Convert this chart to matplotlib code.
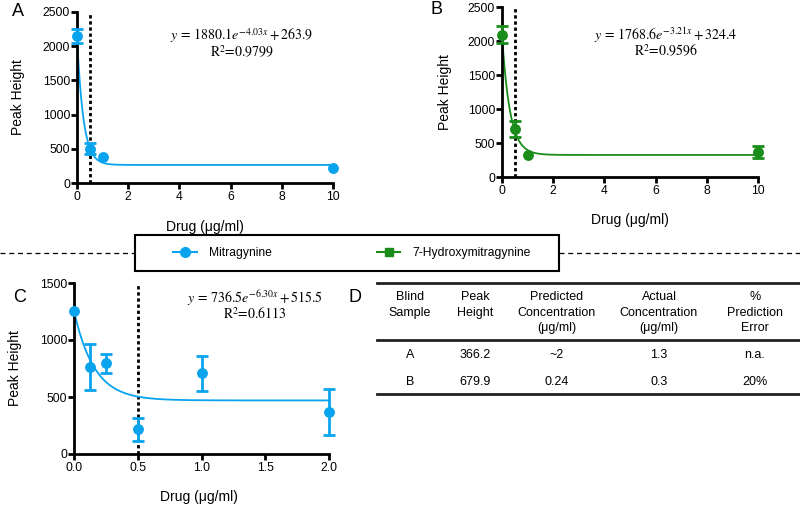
import numpy as np
import matplotlib
matplotlib.use("Agg")
import matplotlib.pyplot as plt
from matplotlib.lines import Line2D
from matplotlib.patches import Rectangle

plt.rcParams['font.family'] = ['Liberation Sans', 'DejaVu Sans']
plt.rcParams['mathtext.fontset'] = 'stix'

BLUE = '#0AA3EE'
GREEN = '#1A8C1A'

# Panel A: Mitragynine
a_x = [0, 0.5, 1, 10]
a_y = [2150, 500, 385, 215]
a_err = [105, 80, 0, 0]
a_fit = (1880.1, 4.03, 263.9)

# Panel B: 7-Hydroxymitragynine
b_x = [0, 0.5, 1, 10]
b_y = [2090, 710, 323, 372]
b_err = [125, 120, 0, 90]
b_fit = (1768.6, 3.21, 324.4)

# Panel C: Mitragynine low range
c_x = [0, 0.125, 0.25, 0.5, 1.0, 2.0]
c_y = [1257, 765, 795, 215, 708, 367]
c_err = [0, 200, 85, 100, 155, 200]
c_fit = (785, 6.30, 470)

# Table D
tbl_header = ["Blind\nSample", "Peak\nHeight", "Predicted\nConcentration\n(\u03bcg/ml)",
              "Actual\nConcentration\n(\u03bcg/ml)", "%\nPrediction\nError"]
tbl_rows = [["A", "366.2", "~2", "1.3", "n.a."],
            ["B", "679.9", "0.24", "0.3", "20%"]]

W, H = 800, 508
fig = plt.figure(figsize=(W / 100, H / 100), dpi=100)


def px_axes(l, r, t, b):
    return fig.add_axes([l / W, (H - b) / H, (r - l) / W, (b - t) / H])


def style(ax, xlim, ylim, xticks, yticks, xtl):
    ax.set_xlim(*xlim)
    ax.set_ylim(*ylim)
    ax.set_xticks(xticks)
    ax.set_xticklabels(xtl)
    ax.set_yticks(yticks)
    for s in ['top', 'right']:
        ax.spines[s].set_visible(False)
    for s in ['left', 'bottom']:
        ax.spines[s].set_linewidth(2)
    ax.tick_params(direction='out', length=4, width=2, labelsize=8.7, pad=2, colors='black')
    ax.tick_params(axis='y', pad=1)
    ax.set_xlabel("Drug (\u03bcg/ml)", fontsize=10)
    ax.set_ylabel("Peak Height", fontsize=10)


def panel(ax, x, y, err, fit, color, xmax, ymax, xticks, yticks, xtl, eq, r2, eqpos):
    xs = np.linspace(0, xmax, 400)
    a, k, c = fit
    ax.plot(xs, a * np.exp(-k * xs) + c, color=color, lw=1.3, clip_on=False, zorder=2)
    ax.plot(x, y, 'o', color=color, ms=6.8, clip_on=False, zorder=4)
    ex = [xi for xi, e in zip(x, err) if e > 0]
    ey = [yi for yi, e in zip(y, err) if e > 0]
    ee = [e for e in err if e > 0]
    ax.errorbar(ex, ey, yerr=ee, fmt='none', ecolor=color, elinewidth=2, capsize=4.5,
                capthick=2, clip_on=False, zorder=3)
    ax.axvline(0.5, color='black', ls=(0, (1.2, 1.0)), lw=2, zorder=1)
    style(ax, (0, xmax), (0, ymax), xticks, yticks, xtl)
    hpx = ax.get_position().height * H
    ax.text(eqpos[0], eqpos[1], eq, transform=ax.transAxes, ha='center', va='center',
            fontsize=10, family='STIXGeneral')
    ax.text(eqpos[0], eqpos[1] - 16.5 / hpx, r2, transform=ax.transAxes, ha='center', va='center',
            fontsize=10, family='STIXGeneral')


axA = px_axes(77, 333, 12, 183)
panel(axA, a_x, a_y, a_err, a_fit, BLUE, 10, 2500, [0, 2, 4, 6, 8, 10], [0, 500, 1000, 1500, 2000, 2500],
      ['0', '2', '4', '6', '8', '10'],
      r"$y\,=\,1880.1e^{-4.03x}+263.9$", r"R$^2$=0.9799", ((242 - 77) / 256, (183 - 36) / 171))
axA.xaxis.set_label_coords(0.5, -0.257)
axA.yaxis.set_label_coords(-0.23, 0.5)

axB = px_axes(502, 758, 7, 177)
panel(axB, b_x, b_y, b_err, b_fit, GREEN, 10, 2500, [0, 2, 4, 6, 8, 10], [0, 500, 1000, 1500, 2000, 2500],
      ['0', '2', '4', '6', '8', '10'],
      r"$y\,=\,1768.6e^{-3.21x}+324.4$", r"R$^2$=0.9596", ((666 - 502) / 256, (177 - 35) / 170))
axB.xaxis.set_label_coords(0.5, -0.253)
axB.yaxis.set_label_coords(-0.223, 0.5)

axC = px_axes(74, 329, 283, 454)
panel(axC, c_x, c_y, c_err, c_fit, BLUE, 2.0, 1500, [0, 0.5, 1.0, 1.5, 2.0], [0, 500, 1000, 1500],
      ['0.0', '0.5', '1.0', '1.5', '2.0'],
      r"$y\,=\,736.5e^{-6.30x}+515.5$", r"R$^2$=0.6113", ((255 - 74) / 255, (454 - 298) / 171))
axC.xaxis.set_label_coords(0.49, -0.25)
axC.yaxis.set_label_coords(-0.231, 0.5)

for ax in (axA, axB, axC):
    ax.xaxis.label.set_va('center')
    ax.yaxis.label.set_va('center')


def fx(p):
    return p / W


def fy(p):
    return (H - p) / H


# Panel letters
for lab, (px, py) in {"A": (18, 12), "B": (437, 10), "C": (20, 297), "D": (355, 297)}.items():
    fig.text(fx(px), fy(py), lab, fontsize=13, ha='center', va='center')

# Separator dashed line and legend
for x0, x1 in [(0, 135), (559, 800)]:
    fig.add_artist(Line2D([fx(x0), fx(x1)], [fy(253), fy(253)], color='black', lw=0.9,
                          ls=(0, (4, 3))))

fig.add_artist(Rectangle((fx(135), fy(271)), fx(559) - fx(135), fy(235) - fy(271),
                         transform=fig.transFigure, fill=False, edgecolor='black', lw=1.5))

h1 = Line2D([], [], color=BLUE, marker='o', ms=7, lw=1.5)
h2 = Line2D([], [], color=GREEN, marker='s', ms=6, lw=1.5)
leg = fig.legend([h1, h2], ["Mitragynine", "7-Hydroxymitragynine"], ncol=2,
                 loc='center', bbox_to_anchor=(fx(352), fy(253)),
                 fontsize=8.7, frameon=False,
                 handlelength=1.95, handletextpad=1.0, borderpad=0, borderaxespad=0,
                 columnspacing=8.7)

# Table D
col_x = [410, 475, 557, 659, 755]
for ly in [283, 340, 394]:
    fig.add_artist(Line2D([fx(377), fx(799)], [fy(ly), fy(ly)], color='#222222', lw=2))
for cx, htxt in zip(col_x, tbl_header):
    fig.text(fx(cx), fy(291), htxt, ha='center', va='top', fontsize=9, linespacing=1.4)
row_y = [355, 382]
for ry, row in zip(row_y, tbl_rows):
    for cx, val in zip(col_x, row):
        fig.text(fx(cx), fy(ry), val, ha='center', va='center', fontsize=9)

fig.savefig("out.png", dpi=100)
